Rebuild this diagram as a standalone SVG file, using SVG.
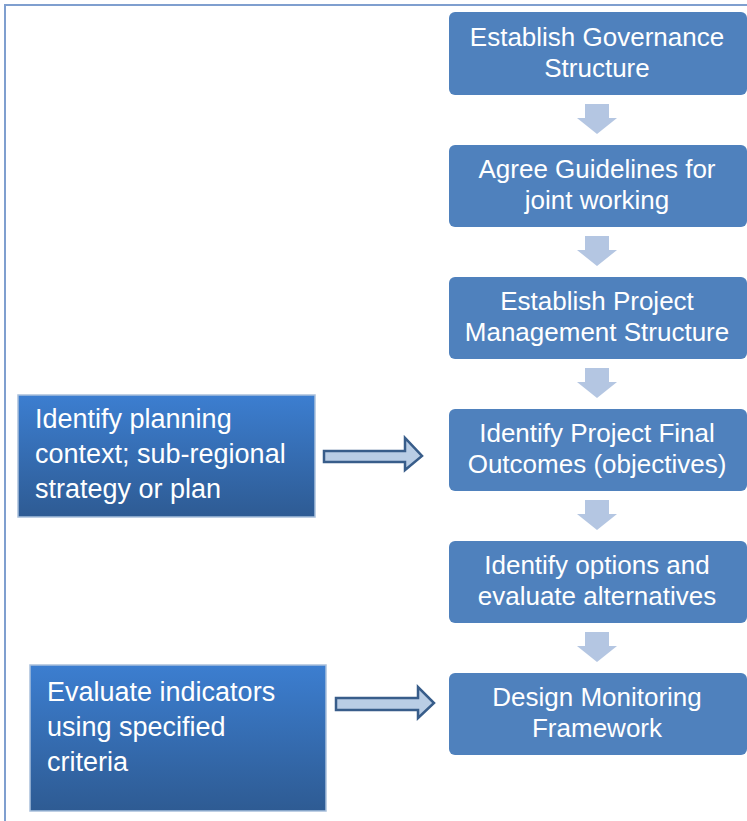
<svg xmlns="http://www.w3.org/2000/svg" width="747" height="821" viewBox="0 0 747 821">
<defs>
<linearGradient id="g" x1="0" y1="0" x2="0" y2="1">
<stop offset="0" stop-color="#3C7ED0"/>
<stop offset="1" stop-color="#2E5B93"/>
</linearGradient>
</defs>
<style>
.box{fill:#4F81BD;}
.lbox{fill:url(#g);stroke:#A9C0DC;stroke-width:1.5;}
.t{font-family:"Liberation Sans",Arial,sans-serif;font-size:26px;fill:#fff;text-anchor:middle;}
.lt{font-family:"Liberation Sans",Arial,sans-serif;font-size:27px;fill:#fff;}
.down{fill:#B4C6E2;}
.harrow{fill:#B9CDE5;stroke:#385D8A;stroke-width:2.5;stroke-linejoin:miter;}
</style>
<rect x="5" y="5" width="770" height="840" fill="#fff" stroke="#7F9FCF" stroke-width="2"/>
<g id="connectors">
<polygon class="down" points="585,104 609,104 609,118 617,118 597,134 577,118 585,118"/>
<polygon class="down" points="585,236 609,236 609,250 617,250 597,266 577,250 585,250"/>
<polygon class="down" points="585,368 609,368 609,382 617,382 597,398 577,382 585,382"/>
<polygon class="down" points="585,500 609,500 609,514 617,514 597,530 577,514 585,514"/>
<polygon class="down" points="585,632 609,632 609,646 617,646 597,662 577,646 585,646"/>
<polygon class="harrow" points="324,451 405,451 405,438 422,456 405,470 405,462 324,462"/>
<polygon class="harrow" points="336,698 418,698 418,687 434,703 418,718 418,710 336,710"/>
</g>
<g id="n1"><rect class="box" x="449" y="12" width="298" height="83" rx="6"/>
<text class="t" x="597" y="46">Establish Governance</text><text class="t" x="597" y="77">Structure</text></g>
<g id="n2"><rect class="box" x="449" y="145" width="298" height="82" rx="6"/>
<text class="t" x="597" y="178">Agree Guidelines for</text><text class="t" x="597" y="209">joint working</text></g>
<g id="n3"><rect class="box" x="449" y="277" width="298" height="82" rx="6"/>
<text class="t" x="597" y="310">Establish Project</text><text class="t" x="597" y="341">Management Structure</text></g>
<g id="n4"><rect class="box" x="449" y="409" width="298" height="82" rx="6"/>
<text class="t" x="597" y="442">Identify Project Final</text><text class="t" x="597" y="473">Outcomes (objectives)</text></g>
<g id="n5"><rect class="box" x="449" y="541" width="298" height="82" rx="6"/>
<text class="t" x="597" y="574">Identify options and</text><text class="t" x="597" y="605">evaluate alternatives</text></g>
<g id="n6"><rect class="box" x="449" y="673" width="298" height="82" rx="6"/>
<text class="t" x="597" y="706">Design Monitoring</text><text class="t" x="597" y="737">Framework</text></g>
<g id="l1"><rect class="lbox" x="18" y="395" width="297" height="122"/>
<text class="lt" x="35" y="428">Identify planning</text><text class="lt" x="35" y="463">context; sub-regional</text><text class="lt" x="35" y="498">strategy or plan</text></g>
<g id="l2"><rect class="lbox" x="30" y="665" width="296" height="146"/>
<text class="lt" x="47" y="701">Evaluate indicators</text><text class="lt" x="47" y="736">using specified</text><text class="lt" x="47" y="771">criteria</text></g>
</svg>
